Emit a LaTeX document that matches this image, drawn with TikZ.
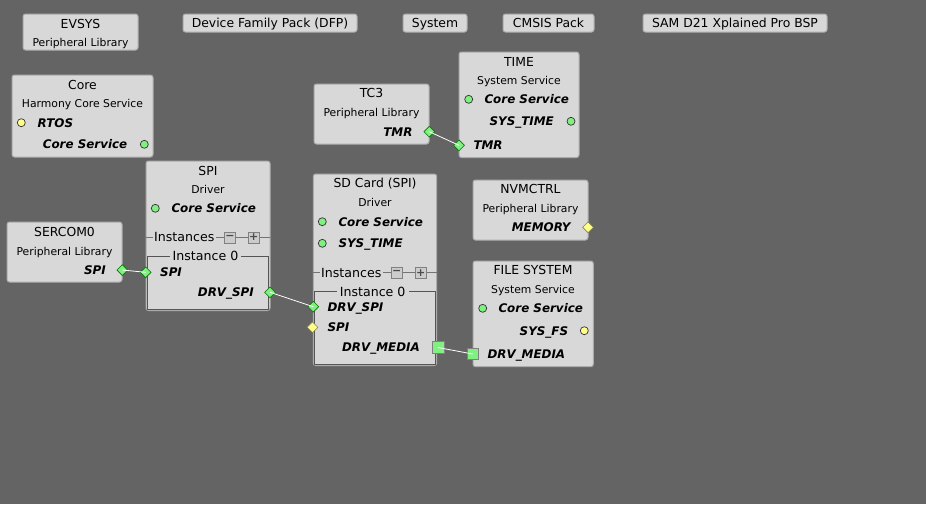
\documentclass[tikz,border=0pt]{standalone}
\usepackage{fontspec}
\setmainfont{DejaVu Sans}
\usetikzlibrary{shapes.geometric}

\definecolor{bgGray}{RGB}{100,100,100}
\definecolor{boxFill}{RGB}{216,216,216}
\definecolor{boxLine}{RGB}{172,172,172}
\definecolor{instLine}{RGB}{85,85,85}
\definecolor{portGreen}{RGB}{128,240,128}
\definecolor{portYellow}{RGB}{255,255,140}
\definecolor{btnFill}{RGB}{204,204,204}

\tikzset{
  comp/.style={draw=boxLine, fill=boxFill, line width=1pt, rounded corners=2.5pt},
  ttl/.style={anchor=mid, inner sep=0pt, yshift=-1.8pt, font=\fontsize{12.4}{14}\selectfont},
  sub/.style={anchor=mid, inner sep=0pt, yshift=-1.5pt, font=\fontsize{10.8}{12}\selectfont},
  lbl/.style={inner sep=0pt, yshift=-1.8pt, font=\fontsize{11.9}{14}\selectfont\bfseries\itshape},
  dot/.style={circle, draw=black!80, line width=0.7pt, minimum size=8pt, inner sep=0pt},
  gdot/.style={dot, fill=portGreen},
  ydot/.style={dot, fill=portYellow},
  dia/.style={diamond, line width=0.6pt, minimum width=11pt, minimum height=11pt, inner sep=0pt},
  gdia/.style={dia, draw=green!45!black, fill=portGreen},
  ydia/.style={dia, draw=yellow!45!black, fill=portYellow},
  sq/.style={draw=gray, line width=0.8pt, fill=portGreen, minimum size=12pt, inner sep=0pt},
  wire/.style={draw=white, line width=0.8pt},
  sepline/.style={draw=black!55, line width=0.8pt},
  inst/.style={draw=instLine, line width=1pt},
  instlbl/.style={fill=boxFill, inner xsep=3pt, inner ysep=0pt, anchor=mid, yshift=-1.8pt, font=\fontsize{12.6}{14}\selectfont},
  btn/.style={draw=gray, fill=btnFill, line width=0.8pt, minimum size=11pt, inner sep=0pt, font=\fontsize{11}{11}\selectfont\bfseries, text=black!70}
}

\begin{document}
\begin{tikzpicture}[x=1pt, y=-1pt]

\useasboundingbox (0,0) rectangle (926,504);
\fill[bgGray] (0,0) rectangle (926,504);

% ======================================
% TOP ROW: PLAIN COMPONENTS
% ======================================
\draw[comp] (23,14) rectangle (138,50);
\node[ttl] (evsys) at (80.5,23.5) {EVSYS};
\node[sub] (evsysSub) at (80.5,42) {Peripheral Library};

\draw[comp] (183,14) rectangle (357,32);
\node[ttl] (dfp) at (270,23) {Device Family Pack (DFP)};

\draw[comp] (403,14) rectangle (467,32);
\node[ttl] (system) at (435,23) {System};

\draw[comp] (503,14) rectangle (594,32);
\node[ttl] (cmsis) at (548.5,23) {CMSIS Pack};

\draw[comp] (643,14) rectangle (827,32);
\node[ttl] (bsp) at (735,23) {SAM D21 Xplained Pro BSP};

% ======================================
% CORE
% ======================================
\draw[comp] (12,75) rectangle (153,157);
\node[ttl] (core) at (82.5,85) {Core};
\node[sub] (coreSub) at (82.5,103.5) {Harmony Core Service};
\node[ydot] (coreRtos) at (21.3,122.7) {};
\node[lbl, anchor=mid west] (coreRtosLbl) at (37.5,122.7) {RTOS};
\node[gdot] (coreCs) at (144.3,144.3) {};
\node[lbl, anchor=mid east] (coreCsLbl) at (127.5,144.3) {Core Service};

% ======================================
% TC3 AND TIME
% ======================================
\draw[comp] (314,84) rectangle (429,144);
\node[ttl] (tc3) at (371.5,93.3) {TC3};
\node[sub] (tc3Sub) at (371.5,112.7) {Peripheral Library};
\node[lbl, anchor=mid east] (tc3TmrLbl) at (412.7,131.7) {TMR};
\node[gdia] (tc3Tmr) at (429.3,131.7) {};

\draw[comp] (459,52) rectangle (579,157.5);
\node[ttl] (time) at (519,61.7) {TIME};
\node[sub] (timeSub) at (519,80.7) {System Service};
\node[gdot] (timeCs) at (468.7,99.3) {};
\node[lbl, anchor=mid west] (timeCsLbl) at (484.3,99.3) {Core Service};
\node[gdot] (timeSys) at (571,121.3) {};
\node[lbl, anchor=mid east] (timeSysLbl) at (554,121.3) {SYS\_TIME};
\node[gdia] (timeTmr) at (459,145.3) {};
\node[lbl, anchor=mid west] (timeTmrLbl) at (473.3,145.3) {TMR};

% ======================================
% SERCOM0 AND SPI DRIVER
% ======================================
\draw[comp] (7,222) rectangle (122,282);
\node[ttl] (sercom) at (64.5,231.7) {SERCOM0};
\node[sub] (sercomSub) at (64.5,251) {Peripheral Library};
\node[lbl, anchor=mid east] (sercomSpiLbl) at (106,270) {SPI};
\node[gdia] (sercomSpi) at (122.3,270) {};

\draw[comp] (146,161) rectangle (270,310.5);
\node[ttl] (spi) at (208,170.7) {SPI};
\node[sub] (spiSub) at (208,189.3) {Driver};
\node[gdot] (spiCs) at (155.3,208.3) {};
\node[lbl, anchor=mid west] (spiCsLbl) at (171.3,208.3) {Core Service};
\draw[sepline] (146,237.3) -- (270,237.3);
\node[instlbl, anchor=mid west, inner xsep=1.5pt] (spiInst) at (152.5,237.3) {Instances};
\node[btn] (spiMinus) at (230,237.5) {−};
\node[btn] (spiPlus) at (253.7,237.5) {+};
\draw[inst] (147,256.3) rectangle (268.7,309);
\node[instlbl] (spiInst0) at (205.5,256.3) {Instance 0};
\node[gdia] (spiSpi) at (145.7,272.3) {};
\node[lbl, anchor=mid west] (spiSpiLbl) at (160,272.3) {SPI};
\node[gdia] (spiDrv) at (270,292.3) {};
\node[lbl, anchor=mid east] (spiDrvLbl) at (254,292.3) {DRV\_SPI};

% ======================================
% SD CARD (SPI) DRIVER
% ======================================
\draw[comp] (313.3,174) rectangle (436.7,365.5);
\node[ttl] (sd) at (375,183.3) {SD Card (SPI)};
\node[sub] (sdSub) at (375,202.7) {Driver};
\node[gdot] (sdCs) at (322.3,221.7) {};
\node[lbl, anchor=mid west] (sdCsLbl) at (338.3,221.7) {Core Service};
\node[gdot] (sdTime) at (322.3,243.3) {};
\node[lbl, anchor=mid west] (sdTimeLbl) at (338.3,243.3) {SYS\_TIME};
\draw[sepline] (313.3,272.7) -- (436.7,272.7);
\node[instlbl, anchor=mid west, inner xsep=1.5pt] (sdInst) at (319.5,272.7) {Instances};
\node[btn] (sdMinus) at (396.7,272.7) {−};
\node[btn] (sdPlus) at (420.7,272.7) {+};
\draw[inst] (314,291.7) rectangle (435.3,364);
\node[instlbl] (sdInst0) at (372.7,291.7) {Instance 0};
\node[gdia] (sdDrv) at (313.3,306.7) {};
\node[lbl, anchor=mid west] (sdDrvLbl) at (327.3,306.7) {DRV\_SPI};
\node[ydia] (sdSpi) at (312.5,327.3) {};
\node[lbl, anchor=mid west] (sdSpiLbl) at (327.3,327.3) {SPI};
\node[lbl, anchor=mid east] (sdMediaLbl) at (420,346.7) {DRV\_MEDIA};
\node[sq] (sdMedia) at (438,347.5) {};

% ======================================
% NVMCTRL AND FILE SYSTEM
% ======================================
\draw[comp] (473,180) rectangle (588,240);
\node[ttl] (nvm) at (530.5,189.3) {NVMCTRL};
\node[sub] (nvmSub) at (530.5,208.7) {Peripheral Library};
\node[lbl, anchor=mid east] (nvmMemLbl) at (570.7,227.3) {MEMORY};
\node[ydia] (nvmMem) at (588,227.3) {};

\draw[comp] (473,261) rectangle (593.3,366.7);
\node[ttl] (fs) at (533,270) {FILE SYSTEM};
\node[sub] (fsSub) at (533,289.3) {System Service};
\node[gdot] (fsCs) at (482.7,308.3) {};
\node[lbl, anchor=mid west] (fsCsLbl) at (498.3,308.3) {Core Service};
\node[ydot] (fsSys) at (584.3,330.7) {};
\node[lbl, anchor=mid east] (fsSysLbl) at (568.3,330.7) {SYS\_FS};
\node[sq, minimum size=11pt] (fsMedia) at (472.7,354) {};
\node[lbl, anchor=mid west] (fsMediaLbl) at (487.3,354) {DRV\_MEDIA};

% ======================================
% CONNECTIONS
% ======================================
\draw[wire] (tc3Tmr.center) -- (timeTmr.center);
\draw[wire] (sercomSpi.center) -- (spiSpi.center);
\draw[wire] (spiDrv.center) -- (sdDrv.center);
\draw[wire] (sdMedia.center) -- (fsMedia.center);

\end{tikzpicture}
\end{document}
